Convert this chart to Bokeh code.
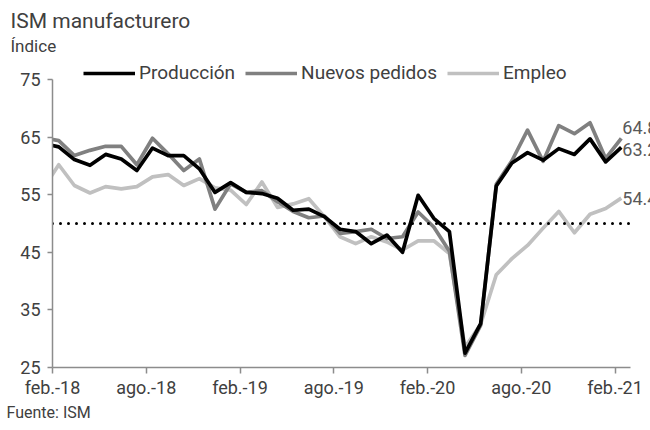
from bokeh.plotting import figure
from bokeh.models import Range1d, FixedTicker, Label, Legend, LegendItem, Title
from bokeh.embed import file_html
from bokeh.resources import INLINE

# ---- data (monthly, ene.-18 .. feb.-21) ----
meses = ["ene.-18", "feb.-18", "mar.-18", "abr.-18", "may.-18", "jun.-18", "jul.-18", "ago.-18",
         "sep.-18", "oct.-18", "nov.-18", "dic.-18", "ene.-19", "feb.-19", "mar.-19", "abr.-19",
         "may.-19", "jun.-19", "jul.-19", "ago.-19", "sep.-19", "oct.-19", "nov.-19", "dic.-19",
         "ene.-20", "feb.-20", "mar.-20", "abr.-20", "may.-20", "jun.-20", "jul.-20", "ago.-20",
         "sep.-20", "oct.-20", "nov.-20", "dic.-20", "ene.-21", "feb.-21"]
produccion = [63.9, 63.3, 61.1, 60.1, 62.0, 61.2, 59.2, 63.1, 61.8, 61.8, 59.5, 55.4, 57.1,
              55.4, 55.2, 54.4, 52.3, 52.5, 51.2, 49.0, 48.6, 46.5, 48.0, 45.0, 54.9, 50.9,
              48.6, 27.5, 32.6, 56.5, 60.5, 62.3, 61.0, 63.0, 62.0, 64.7, 60.7, 63.2]
nuevos_pedidos = [64.9, 64.4, 61.8, 62.7, 63.4, 63.4, 60.2, 64.8, 62.1, 59.2, 61.2, 52.5, 56.9,
                  55.4, 55.7, 53.8, 52.1, 51.0, 51.3, 48.3, 48.6, 49.0, 47.4, 47.7, 52.0, 49.4,
                  45.2, 27.1, 32.3, 56.8, 60.9, 66.2, 60.8, 67.0, 65.6, 67.5, 61.3, 64.8]
empleo = [56.0, 60.2, 56.6, 55.3, 56.4, 56.0, 56.4, 58.1, 58.5, 56.6, 57.8, 56.2, 55.8,
          53.3, 57.2, 52.8, 53.4, 54.3, 51.2, 47.7, 46.5, 47.7, 46.8, 45.4, 47.0, 47.0,
          44.8, 28.5, 32.5, 41.1, 43.9, 46.2, 49.2, 52.1, 48.4, 51.6, 52.6, 54.4]
etiquetas_x = ["feb.-18", "ago.-18", "feb.-19", "ago.-19", "feb.-20", "ago.-20", "feb.-21"]
ticks_y = [25, 35, 45, 55, 65, 75]
umbral = 50

FONT = "Roboto"
TXT = "#404040"
AXC = "#8c8c8c"

# month index relative to feb.-18 (axis origin); points sit inside their month
first = meses.index("feb.-18")
xs = [(i - first) + 0.4 for i in range(len(meses))]
tick_marks = [meses.index(t) - first for t in etiquetas_x]
x_axis_end = tick_marks[-1] + 1          # axis line runs one month past the last tick
x_view_end = 38.27                       # frame runs to the right edge so end labels show
y_view_end = 79.17                       # frame runs above 75 so the legend fits inside

p = figure(width=650, height=430, x_range=Range1d(0, x_view_end),
           y_range=Range1d(ticks_y[0], y_view_end),
           output_backend="svg", toolbar_location=None,
           min_border_left=52, min_border_right=0, min_border_top=55, min_border_bottom=63)
p.outline_line_color = None
p.grid.visible = False

r_emp = p.line(xs, empleo, line_color="#c0c0c0", line_width=3.7, line_join="round")
r_nue = p.line(xs, nuevos_pedidos, line_color="#808080", line_width=3.7, line_join="round")
r_pro = p.line(xs, produccion, line_color="#000000", line_width=3.7, line_join="round")

# 50 threshold, dotted, spanning the axis extent
p.line([0, x_axis_end], [umbral, umbral], line_color="black", line_width=3,
       line_dash="0 8", line_cap="round")

# axes
xa = p.xaxis[0]
xa.bounds = (0, x_axis_end)
xa.ticker = FixedTicker(ticks=tick_marks, minor_ticks=[])
xa.major_label_overrides = {t: lbl for t, lbl in zip(tick_marks, etiquetas_x)}
xa.major_tick_in = 0
xa.major_tick_out = 6
xa.major_tick_line_color = AXC
xa.major_tick_line_width = 1.5
xa.axis_line_color = AXC
xa.axis_line_width = 1.5
xa.major_label_standoff = 3
xa.major_label_text_font = FONT
xa.major_label_text_font_size = "18px"
xa.major_label_text_color = TXT

ya = p.yaxis[0]
ya.bounds = (ticks_y[0], ticks_y[-1])
ya.ticker = FixedTicker(ticks=ticks_y, minor_ticks=[])
ya.major_tick_in = 0
ya.major_tick_out = 5
ya.major_tick_line_color = AXC
ya.major_tick_line_width = 1.5
ya.axis_line_color = AXC
ya.axis_line_width = 1.5
ya.major_label_standoff = 7
ya.major_label_text_font = FONT
ya.major_label_text_font_size = "18px"
ya.major_label_text_color = TXT

legend = Legend(items=[LegendItem(label="Producción", renderers=[r_pro]),
                       LegendItem(label="Nuevos pedidos", renderers=[r_nue]),
                       LegendItem(label="Empleo", renderers=[r_emp])],
                orientation="horizontal", location=(31, 283),
                border_line_color=None, background_fill_alpha=0,
                label_text_font=FONT, label_text_font_size="19px", label_text_color=TXT,
                glyph_width=52, glyph_height=18, label_standoff=4, spacing=10,
                padding=0, margin=0, label_height=18)
p.add_layout(legend)

p.add_layout(Title(text="Índice", align="left", offset=-42, standoff=0,
                   text_font=FONT, text_font_size="17px", text_font_style="normal",
                   text_color=TXT), "above")
p.add_layout(Title(text="ISM manufacturero", align="left", offset=-42, standoff=2,
                   text_font=FONT, text_font_size="21px", text_font_style="normal",
                   text_color=TXT), "above")
p.add_layout(Title(text="Fuente: ISM", align="left", offset=-46, standoff=1,
                   text_font=FONT, text_font_size="16px", text_font_style="normal",
                   text_color=TXT), "below")

# end-of-series labels
for serie, dy in ((nuevos_pedidos, 11), (produccion, -2), (empleo, 0)):
    p.add_layout(Label(x=xs[-1], y=serie[-1], x_offset=1, y_offset=dy, text=f"{serie[-1]:.1f}",
                       text_font=FONT, text_font_size="18px", text_color="#595959",
                       text_baseline="middle", text_align="left"))

open("out.html", "w").write(file_html(p, INLINE))
